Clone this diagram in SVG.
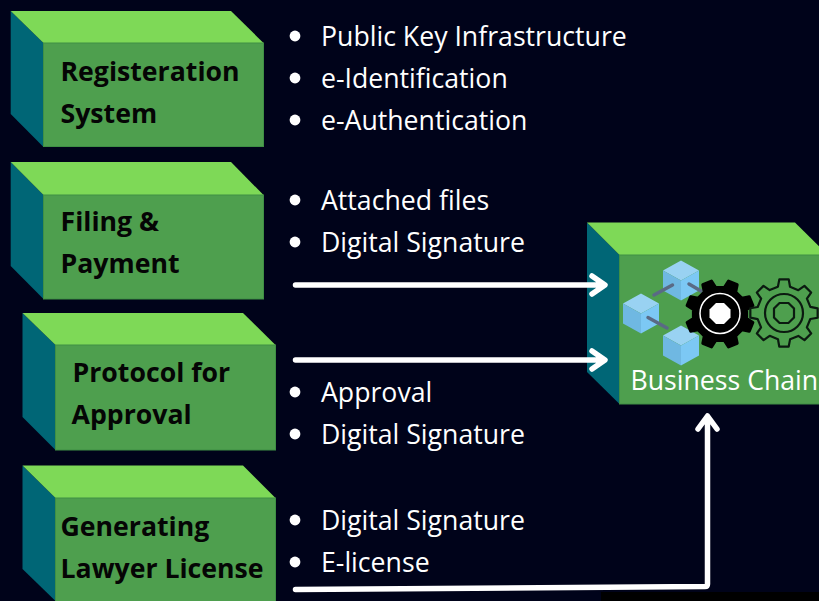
<svg xmlns="http://www.w3.org/2000/svg" width="819" height="601" viewBox="0 0 819 601">
<style>
.top{fill:#7ed957}.side{fill:#006676}.front{fill:#4e9f4e;stroke:#3f8f45;stroke-width:1}
.t{font-family:"Open Sans","Noto Sans","Liberation Sans",sans-serif;font-size:26.67px;fill:#fff}
.b{font-family:"Open Sans","Noto Sans","Liberation Sans",sans-serif;font-size:26.67px;font-weight:700;fill:#050505}
.dot{fill:#fff}
.conn{fill:none;stroke:#fff;stroke-width:5.5;stroke-linecap:round;stroke-linejoin:round}
.gear{fill:none;stroke:#0b1a10;stroke-width:2.2}
.light{fill:#99d2f2}.mid{fill:#7cc8f4}.dark{fill:#6fb8e2}
.link{stroke:#5a6a85;stroke-width:3.5;stroke-linecap:round}
</style>
<defs>
<g id="cube"><polygon class="light" points="0,-20 18,-10 0,0 -18,-10"/><polygon class="dark" points="-18,-10 0,0 0,20 -18,10"/><polygon class="mid" points="18,-10 0,0 0,20 18,10"/></g>
<path id="gearp" stroke-linejoin="round" d="M4.5,-26.6 8.5,-32.9 17.2,-29.3 15.7,-22 22,-15.7 29.3,-17.2 32.9,-8.5 26.6,-4.5 26.6,4.5 32.9,8.5 29.3,17.2 22,15.7 15.7,22 17.2,29.3 8.5,32.9 4.5,26.6 -4.5,26.6 -8.5,32.9 -17.2,29.3 -15.7,22 -22,15.7 -29.3,17.2 -32.9,8.5 -26.6,4.5 -26.6,-4.5 -32.9,-8.5 -29.3,-17.2 -22,-15.7 -15.7,-22 -17.2,-29.3 -8.5,-32.9 -4.5,-26.6 Z"/>
</defs>
<rect width="819" height="601" fill="#00031a"/>
<rect x="601" y="592" width="218" height="9" fill="#000"/>
<g id="node-registration">
<polygon class="side" points="10.7,11 43.5,43 43.5,147 10.7,114"/><polygon class="top" points="10.7,11 231,11 263.5,43 43.5,43"/><rect class="front" x="43.5" y="43" width="220" height="103.5"/>
<text class="b" x="60.5" y="81">Registeration</text><text class="b" x="60.5" y="123">System</text>
</g>
<g id="node-filing">
<polygon class="side" points="10.7,162 43.5,195 43.5,299 10.7,266"/><polygon class="top" points="10.7,162 231,162 263.5,195 43.5,195"/><rect class="front" x="43.5" y="195" width="220" height="104"/>
<text class="b" x="60.5" y="231">Filing &amp;</text><text class="b" x="60.5" y="273">Payment</text>
</g>
<g id="node-protocol">
<polygon class="side" points="22.5,313 55.5,345 55.5,450 22.5,417"/><polygon class="top" points="22.5,313 243,313 275.5,345 55.5,345"/><rect class="front" x="55.5" y="345" width="220" height="105"/>
<text class="b" x="72.5" y="382">Protocol for</text><text class="b" x="71.5" y="424">Approval</text>
</g>
<g id="node-license">
<polygon class="side" points="22.5,465.5 55.5,498 55.5,601 22.5,569"/><polygon class="top" points="22.5,465.5 243,465.5 275.5,498 55.5,498"/><rect class="front" x="55.5" y="498" width="220" height="104"/>
<text class="b" x="60.5" y="536">Generating</text><text class="b" x="60.5" y="578">Lawyer License</text>
</g>
<g id="list-1"><circle class="dot" cx="295" cy="36" r="5.4"/><circle class="dot" cx="295" cy="78" r="5.4"/><circle class="dot" cx="295" cy="120" r="5.4"/>
<text class="t" x="321" y="46.3">Public Key Infrastructure</text><text class="t" x="321" y="88.3">e-Identification</text><text class="t" x="321" y="130.3">e-Authentication</text></g>
<g id="list-2"><circle class="dot" cx="295" cy="200" r="5.4"/><circle class="dot" cx="295" cy="242" r="5.4"/>
<text class="t" x="321" y="210.3">Attached files</text><text class="t" x="321" y="252.3">Digital Signature</text></g>
<g id="list-3"><circle class="dot" cx="295" cy="392" r="5.4"/><circle class="dot" cx="295" cy="434" r="5.4"/>
<text class="t" x="321" y="402.3">Approval</text><text class="t" x="321" y="444.3">Digital Signature</text></g>
<g id="list-4"><circle class="dot" cx="295" cy="520" r="5.4"/><circle class="dot" cx="295" cy="562" r="5.4"/>
<text class="t" x="321" y="530.3">Digital Signature</text><text class="t" x="321" y="572.3">E-license</text></g>
<g id="node-business">
<polygon class="side" points="587,222.5 619.5,255 619.5,404 587,372"/><polygon class="top" points="587,222.5 795,222.5 828,255 619.5,255"/><rect class="front" x="619.5" y="255" width="205" height="149"/>
<use href="#cube" x="681" y="280.5"/><use href="#cube" x="641" y="313.5"/><use href="#cube" x="681" y="345.5"/>
<line class="link" x1="654" y1="295" x2="672.5" y2="285"/><line class="link" x1="689" y1="284" x2="701" y2="291"/><line class="link" x1="648" y1="317.5" x2="667" y2="328"/>
<use href="#gearp" transform="translate(720,314)" fill="#000" stroke="#000" stroke-width="3"/>
<circle cx="720" cy="313.5" r="20" fill="none" stroke="#fff" stroke-width="1.5"/><polygon fill="#fff" points="716,303 724,303 730.5,309.5 730.5,317.5 724,324 716,324 709.5,317.5 709.5,309.5"/>
<use href="#gearp" transform="translate(784,313) rotate(22.5)" class="gear"/>
<circle class="gear" cx="784" cy="313" r="19"/><polygon class="gear" points="779.5,303 788.5,303 794,308.5 794,317.5 788.5,323 779.5,323 774,317.5 774,308.5"/>
<text class="t" x="630.5" y="390.3">Business Chain</text>
</g>
<g id="connectors">
<path class="conn" d="M295.5,285 H604 M592,276 L605,285 L592,294"/>
<path class="conn" d="M295.5,360 H604 M592,351 L605,360 L592,369"/>
<path class="conn" d="M295.5,589.5 L705,586.5 Q707.5,586.5 707.5,584 V417 M698,429 L707.5,416 L717,429"/>
</g>
</svg>
